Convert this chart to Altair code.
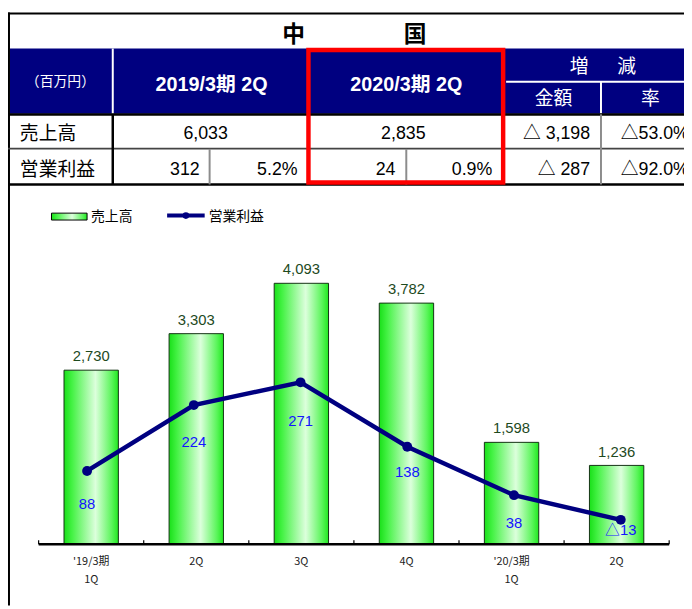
import altair as alt
import pandas as pd

# ---------------- data ----------------
quarters = ["'19/3期\n1Q", "2Q", "3Q", "4Q", "'20/3期\n1Q", "2Q"]
sales = [2730, 3303, 4093, 3782, 1598, 1236]
op_income = [88, 224, 271, 138, 38, -13]

title_chars = ["中", "国"]
unit_label = ["（百万円）"]
period_headers = ["2019/3期 2Q", "2020/3期 2Q"]
change_header = ["増", "減"]
change_sub = ["金額", "率"]
row_labels = ["売上高", "営業利益"]
sales_center_cells = ["6,033", "2,835"]
sales_change = ["△ 3,198"]
sales_rate = ["△53.0%"]
op_cells = ["312", "5.2%", "24", "0.9%", "△ 287"]
op_rate = ["△92.0%"]
legend_labels = ["売上高", "営業利益"]

# --------------- layout / style ----------------
W, H = 684, 601
NUM_FONT = "Liberation Sans, Noto Sans CJK JP, sans-serif"
JP_FONT = "Noto Sans CJK JP, sans-serif"
NAVY = "#000080"
GRAY = "#8c8c8c"

green_grad = alt.Gradient(
    gradient="linear", x1=0, x2=1, y1=0, y2=0,
    stops=[alt.GradientStop(color="#19e019", offset=0),
           alt.GradientStop(color="#45f245", offset=0.15),
           alt.GradientStop(color="#dcffdc", offset=0.58),
           alt.GradientStop(color="#5af55a", offset=0.88),
           alt.GradientStop(color="#20e820", offset=1)])


def text_layer(xs, ys, texts, **mk):
    df = pd.DataFrame({"x": xs, "y": ys, "t": texts})
    return alt.Chart(df).mark_text(baseline="middle", **mk).encode(
        x=alt.X("x:Q", scale=None), y=alt.Y("y:Q", scale=None), text="t:N")


def rule_layer(segs, color, width):
    df = pd.DataFrame(segs, columns=["x", "y", "x2", "y2"])
    return alt.Chart(df).mark_rule(color=color, strokeWidth=width).encode(
        x=alt.X("x:Q", scale=None), y=alt.Y("y:Q", scale=None),
        x2="x2:Q", y2="y2:Q")


def rect_layer(x, y, x2, y2, **mk):
    df = pd.DataFrame({"x": [x], "y": [y], "x2": [x2], "y2": [y2]})
    return alt.Chart(df).mark_rect(**mk).encode(
        x=alt.X("x:Q", scale=None), y=alt.Y("y:Q", scale=None),
        x2="x2:Q", y2="y2:Q")


# ---------------- table ----------------
table_layers = [
    rect_layer(2, 37.5, W, 103.5, fill=NAVY),
    rule_layer([[106, 37.5, 106, 103.5], [504, 71, W, 71], [600, 71, 600, 103.5]], "white", 2),
    rule_layer([[0, 2, W, 2]], "black", 2.2),
    rule_layer([[0.5, 1, 0.5, H]], "black", 3),
    rule_layer([[0, 104.2, W, 104.2]], "black", 2.3),
    rule_layer([[0, 138.7, W, 138.7]], "#444444", 1.8),
    rule_layer([[0, 175, W, 175]], "black", 2.6),
    rule_layer([[106, 104, 106, 175]], "black", 2.5),
    rule_layer([[204, 139, 204, 175], [403, 139, 403, 175], [600, 104, 600, 175]], GRAY, 2),
    text_layer([289, 412], [24, 24], title_chars, font=JP_FONT, fontSize=23,
               fontWeight="bold", color="black", align="center"),
    text_layer([53], [71], unit_label, font=JP_FONT, fontSize=14,
               color="white", align="center"),
    text_layer([206, 403], [74, 74], period_headers, font=NUM_FONT, fontSize=20,
               fontWeight="bold", color="white", align="center"),
    text_layer([578, 626], [56, 56], change_header, font=JP_FONT, fontSize=19,
               color="white", align="center"),
    text_layer([552, 650], [89, 89], change_sub, font=JP_FONT, fontSize=19,
               color="white", align="center"),
    text_layer([12, 12], [124, 160], row_labels, font=JP_FONT, fontSize=19,
               color="black", align="left"),
    text_layer([200, 400], [124, 124], sales_center_cells, font=NUM_FONT, fontSize=18,
               color="black", align="center"),
    text_layer([589], [124], sales_change, font=NUM_FONT, fontSize=18,
               color="black", align="right"),
    text_layer([620], [124], sales_rate, font=NUM_FONT, fontSize=18,
               color="black", align="left"),
    text_layer([194, 293, 392, 490, 589], [160] * 5, op_cells, font=NUM_FONT, fontSize=18,
               color="black", align="right"),
    text_layer([620], [160], op_rate, font=NUM_FONT, fontSize=18,
               color="black", align="left"),
    rect_layer(304, 39, 501, 173, fill=None, fillOpacity=0, stroke="#ff0000", strokeWidth=4.5),
    # legend
    rect_layer(44, 204, 80, 211, fill=green_grad, stroke="black", strokeWidth=1),
    text_layer([84], [208], [legend_labels[0]], font=JP_FONT, fontSize=14,
               color="black", align="left"),
    rule_layer([[161, 206.5, 199, 206.5]], NAVY, 4),
    alt.Chart(pd.DataFrame({"x": [180], "y": [206.5]})).mark_circle(
        size=45, color=NAVY, opacity=1).encode(
        x=alt.X("x:Q", scale=None), y=alt.Y("y:Q", scale=None)),
    text_layer([203], [208], [legend_labels[1]], font=JP_FONT, fontSize=14,
               color="black", align="left"),
]
table_group = alt.layer(*table_layers)

# ---------------- chart ----------------
df = pd.DataFrame({"i": list(range(len(quarters))), "q": quarters,
                   "sales": sales, "op": op_income})
x_scale = alt.Scale(domain=[-0.5, 5.5], range=[26, 674], nice=False, zero=False)
y_bar = alt.Scale(domain=[0, 5000], range=[539, 216.5], nice=False)
y_op = alt.Scale(domain=[0, 600], range=[508, 214], nice=False)
X = alt.X("i:Q", scale=x_scale, axis=None)

base = alt.Chart(df)
bars = base.mark_bar(size=55, orient="vertical", fill=green_grad,
                     stroke="#143214", strokeWidth=1).encode(
    x=X, y=alt.Y("sales:Q", scale=y_bar, axis=None))
bar_labels = base.mark_text(dy=-14, fontSize=15, color="#1e4a1e", font=NUM_FONT).encode(
    x=X, y=alt.Y("sales:Q", scale=y_bar, axis=None),
    text=alt.Text("sales:Q", format=","))
axis_labels = base.mark_text(baseline="top", lineBreak="\n", fontSize=11, lineHeight=18,
                             font=JP_FONT, color="#222222").encode(
    x=X, y=alt.value(551), text="q:N")
bounds = pd.DataFrame({"b": [k - 0.5 for k in range(len(quarters) + 1)], "z": [0] * (len(quarters) + 1)})
ticks = alt.Chart(bounds).mark_rule(color="black", strokeWidth=1.2).encode(
    x=alt.X("b:Q", scale=x_scale, axis=None),
    y=alt.Y("z:Q", scale=y_bar, axis=None), y2=alt.value(535))
baseline = alt.Chart(pd.DataFrame({"a": [-0.5], "b": [5.5], "z": [0]})).mark_rule(
    color="black", strokeWidth=2.5).encode(
    x=alt.X("a:Q", scale=x_scale, axis=None), x2="b:Q",
    y=alt.Y("z:Q", scale=y_bar, axis=None))
bar_group = alt.layer(bars, ticks, baseline, bar_labels, axis_labels)

Y_OP = alt.Y("op:Q", scale=y_op, axis=None)
line = base.mark_line(color=NAVY, strokeWidth=4.5).encode(x=X, y=Y_OP)
points = base.mark_circle(size=100, color=NAVY, opacity=1).encode(x=X, y=Y_OP)
label_dy = [33, 37, 39, 26, 28, 10]
op_label_layers = []
for k, d in enumerate(label_dy):
    op_label_layers.append(
        alt.Chart(df.iloc[[k]]).transform_calculate(
            lab="datum.op < 0 ? '△' + (-datum.op) : '' + datum.op"
        ).mark_text(dy=d, fontSize=15, color="#1414ff", font=NUM_FONT).encode(
            x=X, y=Y_OP, text="lab:N"))
line_group = alt.layer(line, points, *op_label_layers)

chart = alt.layer(table_group, bar_group, line_group).resolve_scale(
    x="independent", y="independent"
).properties(
    width=W, height=H, padding=0,
    autosize=alt.AutoSizeParams(type="none"),
).configure_view(stroke=None)

chart.save("out.html", embed_options={"renderer": "svg", "actions": False})
